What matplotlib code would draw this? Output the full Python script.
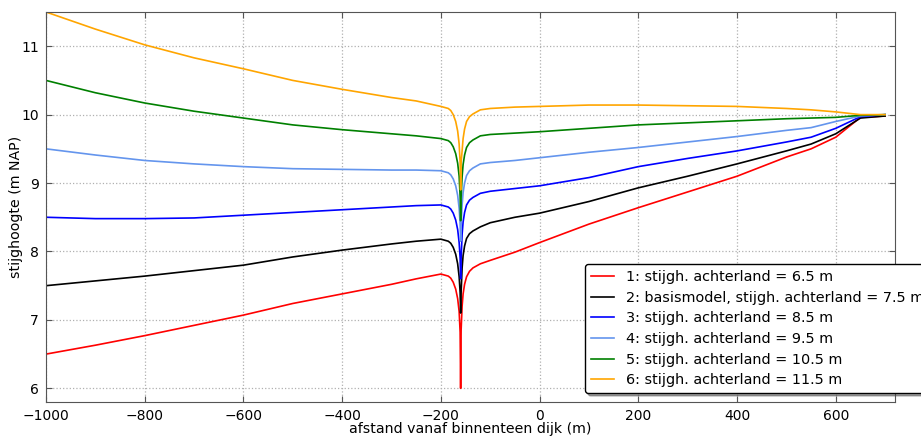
import numpy as np
import matplotlib
matplotlib.use('Agg')
import matplotlib.pyplot as plt

# afstand vanaf binnenteen dijk (m), put op x = -160
x = [-1000, -900, -800, -700, -600, -500, -400, -300, -250, -200,
     -185, -180, -175, -170, -166, -163, -161, -160, -159, -157, -155, -152,
     -148, -142, -135, -120, -100,
     -50, 0, 100, 200, 300, 400, 500, 550, 600, 650, 700]

h1 = [6.50, 6.63, 6.77, 6.92, 7.07, 7.24, 7.38, 7.52, 7.60, 7.67,
      7.64, 7.61, 7.55, 7.45, 7.31, 7.12, 6.82, 6.00, 6.85, 7.20, 7.38, 7.52,
      7.63, 7.71, 7.76, 7.82, 7.87,
      7.99, 8.13, 8.40, 8.64, 8.87, 9.10, 9.38, 9.50, 9.67, 9.96, 9.98]
h2 = [7.50, 7.57, 7.64, 7.72, 7.80, 7.92, 8.02, 8.11, 8.15, 8.18,
      8.15, 8.12, 8.06, 7.96, 7.82, 7.63, 7.40, 7.10, 7.40, 7.76, 7.94, 8.08,
      8.19, 8.26, 8.30, 8.36, 8.42,
      8.50, 8.56, 8.73, 8.93, 9.10, 9.28, 9.47, 9.57, 9.72, 9.95, 9.98]
h3 = [8.50, 8.48, 8.48, 8.49, 8.53, 8.57, 8.61, 8.65, 8.67, 8.68,
      8.65, 8.62, 8.56, 8.46, 8.32, 8.13, 7.90, 7.60, 7.90, 8.25, 8.43, 8.57,
      8.68, 8.75, 8.79, 8.85, 8.88,
      8.92, 8.96, 9.08, 9.24, 9.36, 9.47, 9.60, 9.67, 9.80, 9.97, 10.0]
h4 = [9.50, 9.41, 9.33, 9.28, 9.24, 9.21, 9.20, 9.19, 9.19, 9.18,
      9.15, 9.12, 9.06, 8.96, 8.82, 8.63, 8.40, 8.15, 8.40, 8.68, 8.86, 9.00,
      9.11, 9.18, 9.22, 9.28, 9.30,
      9.33, 9.37, 9.45, 9.52, 9.60, 9.68, 9.77, 9.81, 9.90, 9.98, 10.0]
h5 = [10.50, 10.32, 10.17, 10.05, 9.95, 9.85, 9.78, 9.72, 9.69, 9.65,
      9.62, 9.59, 9.53, 9.43, 9.29, 9.10, 8.80, 8.45, 8.80, 9.09, 9.27, 9.41,
      9.52, 9.59, 9.63, 9.69, 9.71,
      9.73, 9.75, 9.80, 9.85, 9.88, 9.91, 9.94, 9.95, 9.96, 9.99, 10.0]
h6 = [11.50, 11.25, 11.02, 10.83, 10.67, 10.50, 10.37, 10.25, 10.20, 10.12,
      10.09, 10.06, 10.00, 9.90, 9.76, 9.57, 9.30, 8.90, 9.30, 9.47, 9.65, 9.79,
      9.90, 9.97, 10.01, 10.07, 10.09,
      10.11, 10.12, 10.14, 10.14, 10.13, 10.12, 10.09, 10.07, 10.04, 10.00, 10.0]

labels = ['1: stijgh. achterland = 6.5 m',
          '2: basismodel, stijgh. achterland = 7.5 m',
          '3: stijgh. achterland = 8.5 m',
          '4: stijgh. achterland = 9.5 m',
          '5: stijgh. achterland = 10.5 m',
          '6: stijgh. achterland = 11.5 m']
kleuren = ['red', 'black', 'blue', 'cornflowerblue', 'green', 'orange']

fig = plt.figure(figsize=(9.21, 4.36), dpi=100, facecolor='white')
ax = fig.add_axes([46 / 921, 34 / 436, 849 / 921, 390 / 436])

for h, lab, c in zip([h1, h2, h3, h4, h5, h6], labels, kleuren):
    ax.plot(x, h, color=c, lw=1.2, label=lab)

ax.set_xlim(-1000, 720)
ax.set_ylim(5.8, 11.5)
ax.set_xticks([-1000, -800, -600, -400, -200, 0, 200, 400, 600])
ax.set_yticks([6, 7, 8, 9, 10, 11])
ax.grid(True, color='#b0b0b0', linestyle=':', lw=0.9)
ax.tick_params(direction='in', top=True, right=True, labelsize=10,
               length=4, color='#555555', pad=5)
for s in ax.spines.values():
    s.set_color('#555555')
ax.set_xlabel('afstand vanaf binnenteen dijk (m)', fontsize=10.2, labelpad=-1)
ax.set_ylabel('stijghoogte (m NAP)', fontsize=10.2)
ax.yaxis.set_label_coords(-0.027, 0.5)

leg = ax.legend(loc='lower left', bbox_to_anchor=(0.635, 0.023), fontsize=10.4,
                handlelength=1.6, labelspacing=0.46, fancybox=True, shadow=True,
                framealpha=1, borderaxespad=0)
leg.get_frame().set_edgecolor('black')

fig.savefig('out.png', dpi=100, facecolor='white')
